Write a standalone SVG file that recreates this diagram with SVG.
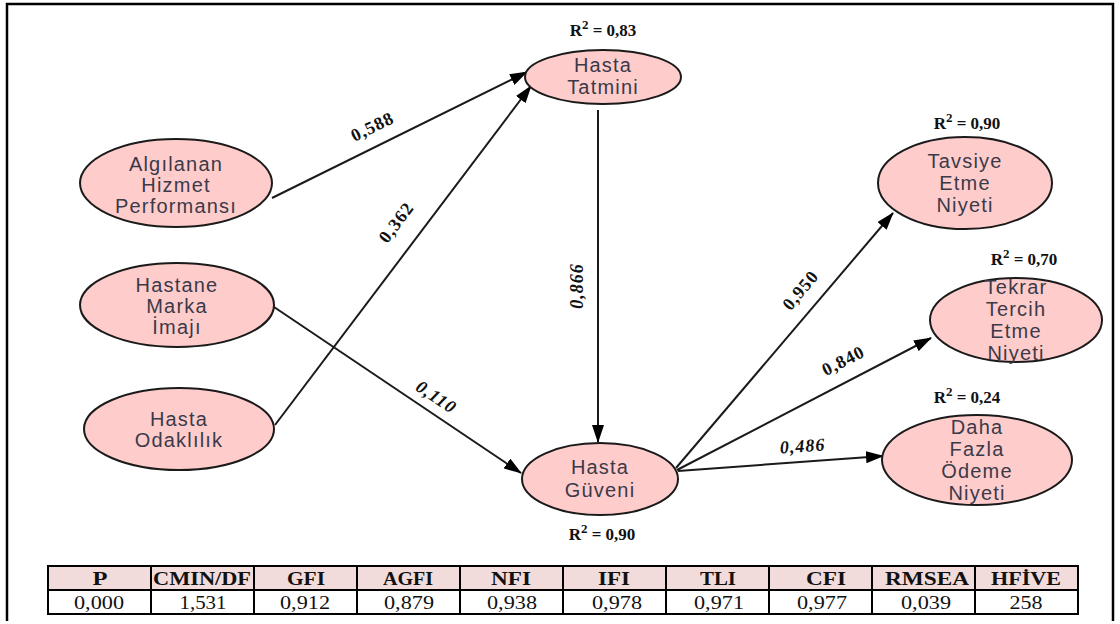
<svg xmlns="http://www.w3.org/2000/svg" width="1120" height="624" viewBox="0 0 1120 624">
  <defs>
    <marker id="arrow" markerWidth="18" markerHeight="12" refX="17" refY="6" orient="auto" markerUnits="userSpaceOnUse">
      <path d="M0,0 L18,6 L0,12 Z" fill="#000"/>
    </marker>
    <style>
      .node ellipse { fill: #ffcccc; stroke: #1a1a1a; stroke-width: 2; }
      .node text { font-family: "Liberation Sans", Arial, sans-serif; font-size: 20px; letter-spacing: 1.2px; fill: #3a3a48; text-anchor: middle; }
      .edge { stroke: #1a1a1a; stroke-width: 2; fill: none; marker-end: url(#arrow); }
      .coef { font-family: "Liberation Serif", "Times New Roman", serif; font-size: 18px; font-weight: bold; fill: #111; text-anchor: middle; letter-spacing: 1px; }
      .coef.it { font-style: italic; }
      .r2 { font-family: "Liberation Serif", "Times New Roman", serif; font-size: 17px; font-weight: bold; fill: #111; text-anchor: middle; }
      .hdr { fill: #f2dcdb; stroke: #000; stroke-width: 2; }
      .val { fill: #fff; stroke: #000; stroke-width: 2; }
      .th { font-family: "Liberation Serif", "Times New Roman", serif; font-size: 18px; font-weight: bold; fill: #111; text-anchor: middle; }
      .td { font-family: "Liberation Serif", "Times New Roman", serif; font-size: 18px; fill: #111; text-anchor: middle; }
    </style>
  </defs>

  <rect width="1120" height="624" fill="#fff"/>
  <!-- outer frame -->
  <path d="M7,621 L7,4 L1113,4 L1113,621" fill="none" stroke="#000" stroke-width="2.5"/>

  <!-- connectors -->
  <g id="connectors">
    <line class="edge" x1="272" y1="198" x2="527" y2="72"/>
    <line class="edge" x1="275" y1="425" x2="531" y2="86"/>
    <line class="edge" x1="274" y1="307" x2="521" y2="473"/>
    <line class="edge" x1="598" y1="110" x2="598" y2="442"/>
    <line class="edge" x1="676" y1="468" x2="893" y2="213"/>
    <line class="edge" x1="677" y1="470" x2="931" y2="338"/>
    <line class="edge" x1="678" y1="471" x2="883" y2="456"/>

    <text class="coef" transform="translate(375,132) rotate(-26)">0,588</text>
    <text class="coef" transform="translate(401,226) rotate(-53)">0,362</text>
    <text class="coef it" transform="translate(433,402) rotate(34)">0,110</text>
    <text class="coef it" transform="translate(583,286) rotate(-90)">0,866</text>
    <text class="coef" transform="translate(805,294) rotate(-50)">0,950</text>
    <text class="coef" transform="translate(846,366) rotate(-27)">0,840</text>
    <text class="coef it" transform="translate(803,452) rotate(-4)">0,486</text>
  </g>

  <!-- nodes -->
  <g id="hasta-tatmini" class="node">
    <ellipse cx="603" cy="77" rx="78" ry="27"/>
    <text x="603" y="72">Hasta</text>
    <text x="603" y="94">Tatmini</text>
  </g>
  <g id="algilanan" class="node">
    <ellipse cx="176" cy="183" rx="96" ry="44"/>
    <text x="176" y="171">Algılanan</text>
    <text x="176" y="192">Hizmet</text>
    <text x="176" y="213">Performansı</text>
  </g>
  <g id="marka-imaji" class="node">
    <ellipse cx="177" cy="305" rx="97" ry="42"/>
    <text x="177" y="292">Hastane</text>
    <text x="177" y="313">Marka</text>
    <text x="177" y="334">İmajı</text>
  </g>
  <g id="odaklilik" class="node">
    <ellipse cx="179" cy="429" rx="95" ry="41"/>
    <text x="179" y="426">Hasta</text>
    <text x="179" y="447">Odaklılık</text>
  </g>
  <g id="hasta-guveni" class="node">
    <ellipse cx="600" cy="479" rx="78" ry="36"/>
    <text x="600" y="474">Hasta</text>
    <text x="600" y="497">Güveni</text>
  </g>
  <g id="tavsiye" class="node">
    <ellipse cx="965" cy="183" rx="87" ry="46"/>
    <text x="965" y="168">Tavsiye</text>
    <text x="965" y="190">Etme</text>
    <text x="965" y="212">Niyeti</text>
  </g>
  <g id="tekrar" class="node">
    <ellipse cx="1016" cy="320" rx="86" ry="42"/>
    <text x="1016" y="294">Tekrar</text>
    <text x="1016" y="316">Tercih</text>
    <text x="1016" y="338">Etme</text>
    <text x="1016" y="360">Niyeti</text>
  </g>
  <g id="daha-fazla" class="node">
    <ellipse cx="977" cy="460" rx="95" ry="45"/>
    <text x="977" y="434">Daha</text>
    <text x="977" y="456">Fazla</text>
    <text x="977" y="478">Ödeme</text>
    <text x="977" y="500">Niyeti</text>
  </g>

  <!-- R-squared labels -->
  <g id="r2-labels">
    <text class="r2" x="603" y="36">R<tspan dy="-7" font-size="13">2</tspan><tspan dy="7"> = 0,83</tspan></text>
    <text class="r2" x="967" y="129">R<tspan dy="-7" font-size="13">2</tspan><tspan dy="7"> = 0,90</tspan></text>
    <text class="r2" x="1024" y="265">R<tspan dy="-7" font-size="13">2</tspan><tspan dy="7"> = 0,70</tspan></text>
    <text class="r2" x="967" y="403">R<tspan dy="-7" font-size="13">2</tspan><tspan dy="7"> = 0,24</tspan></text>
    <text class="r2" x="602" y="540">R<tspan dy="-7" font-size="13">2</tspan><tspan dy="7"> = 0,90</tspan></text>
  </g>

  <!-- fit indices table -->
  <g id="fit-table">
    <rect class="hdr" x="48" y="566" width="103" height="24"/>
    <rect class="hdr" x="151" y="566" width="103" height="24"/>
    <rect class="hdr" x="254" y="566" width="103" height="24"/>
    <rect class="hdr" x="357" y="566" width="103" height="24"/>
    <rect class="hdr" x="460" y="566" width="103" height="24"/>
    <rect class="hdr" x="563" y="566" width="103" height="24"/>
    <rect class="hdr" x="666" y="566" width="103" height="24"/>
    <rect class="hdr" x="769" y="566" width="103" height="24"/>
    <rect class="hdr" x="872" y="566" width="103" height="24"/>
    <rect class="hdr" x="975" y="566" width="103" height="24"/>
    <rect class="val" x="48" y="590" width="103" height="24"/>
    <rect class="val" x="151" y="590" width="103" height="24"/>
    <rect class="val" x="254" y="590" width="103" height="24"/>
    <rect class="val" x="357" y="590" width="103" height="24"/>
    <rect class="val" x="460" y="590" width="103" height="24"/>
    <rect class="val" x="563" y="590" width="103" height="24"/>
    <rect class="val" x="666" y="590" width="103" height="24"/>
    <rect class="val" x="769" y="590" width="103" height="24"/>
    <rect class="val" x="872" y="590" width="103" height="24"/>
    <rect class="val" x="975" y="590" width="103" height="24"/>

    <g lengthAdjust="spacingAndGlyphs">
      <text class="th" x="100" y="585" textLength="15" lengthAdjust="spacingAndGlyphs">P</text>
      <text class="th" x="202" y="585" textLength="98" lengthAdjust="spacingAndGlyphs">CMIN/DF</text>
      <text class="th" x="306" y="585" textLength="38" lengthAdjust="spacingAndGlyphs">GFI</text>
      <text class="th" x="408" y="585" textLength="50" lengthAdjust="spacingAndGlyphs">AGFI</text>
      <text class="th" x="511" y="585" textLength="40" lengthAdjust="spacingAndGlyphs">NFI</text>
      <text class="th" x="614" y="585" textLength="32" lengthAdjust="spacingAndGlyphs">IFI</text>
      <text class="th" x="718" y="585" textLength="36" lengthAdjust="spacingAndGlyphs">TLI</text>
      <text class="th" x="826" y="585" textLength="40" lengthAdjust="spacingAndGlyphs">CFI</text>
      <text class="th" x="927" y="585" textLength="84" lengthAdjust="spacingAndGlyphs">RMSEA</text>
      <text class="th" x="1026" y="585" textLength="70" lengthAdjust="spacingAndGlyphs">HFİVE</text>
    </g>

    <text class="td" x="99" y="609" textLength="50" lengthAdjust="spacingAndGlyphs">0,000</text>
    <text class="td" x="203" y="609" textLength="47" lengthAdjust="spacingAndGlyphs">1,531</text>
    <text class="td" x="305" y="609" textLength="50" lengthAdjust="spacingAndGlyphs">0,912</text>
    <text class="td" x="409" y="609" textLength="50" lengthAdjust="spacingAndGlyphs">0,879</text>
    <text class="td" x="512" y="609" textLength="50" lengthAdjust="spacingAndGlyphs">0,938</text>
    <text class="td" x="617" y="609" textLength="50" lengthAdjust="spacingAndGlyphs">0,978</text>
    <text class="td" x="719" y="609" textLength="50" lengthAdjust="spacingAndGlyphs">0,971</text>
    <text class="td" x="822" y="609" textLength="50" lengthAdjust="spacingAndGlyphs">0,977</text>
    <text class="td" x="926" y="609" textLength="50" lengthAdjust="spacingAndGlyphs">0,039</text>
    <text class="td" x="1026" y="609" textLength="33" lengthAdjust="spacingAndGlyphs">258</text>
  </g>
</svg>
